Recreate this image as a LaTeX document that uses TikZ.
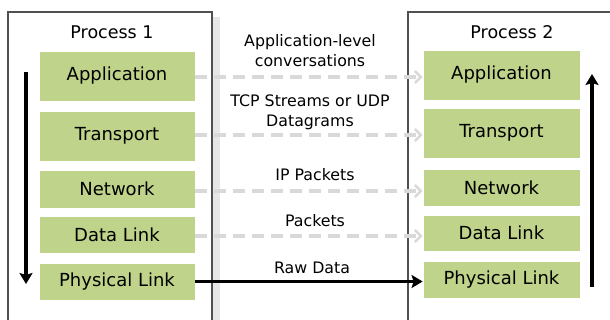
\documentclass[tikz,border=0pt]{standalone}
\usepackage{fontspec}
\setmainfont{DejaVu Sans}
\usetikzlibrary{arrows.meta}
\definecolor{layergreen}{HTML}{BFD38A}
\definecolor{framegray}{HTML}{505050}
\definecolor{shadowgray}{HTML}{E6E6E6}
\definecolor{pathgray}{HTML}{D9D9D9}
\tikzset{
  layer/.style={fill=layergreen, draw=white, line width=0.8pt, inner sep=0pt,
    font=\fontsize{18}{21}\selectfont},
  frame/.style={draw=framegray, line width=1.4pt},
  title/.style={font=\fontsize{17.5}{20}\selectfont},
  caption/.style={font=\fontsize{15.8}{20}\selectfont, align=center, inner sep=0pt},
  peer/.style={draw=pathgray, line width=3.6pt, dash pattern=on 12pt off 7pt,
    -{Straight Barb[length=6pt,width=12pt,line width=2.4pt]}},
  wire/.style={draw=black, line width=3.4pt, -{Stealth[length=11pt,width=13pt,inset=2pt]}},
}
\begin{document}
\begin{tikzpicture}[x=1pt, y=-1pt]
\useasboundingbox (0,0) rectangle (610,320);
\fill[white] (0,0) rectangle (610,320);

% process frames with a soft shadow on the left one
\fill[shadowgray] (212,17) rectangle (220,330);
\draw[frame] (8,330) -- (8,12) -- (212,12) -- (212,330);
\draw[frame] (408,330) -- (408,12) -- (620,12);

\node[title] (p1) at (112,32) {Process 1};
\node[title] (p2) at (512,32) {Process 2};

% layer stack of process 1
\node[layer, minimum width=156pt, minimum height=50pt] (la) at (117,76) {Application};
\node[layer, minimum width=156pt, minimum height=50pt] (lt) at (117,136) {Transport};
\node[layer, minimum width=156pt, minimum height=38pt] (ln) at (117,189) {Network};
\node[layer, minimum width=156pt, minimum height=37pt] (ld) at (117,234.5) {Data Link};
\node[layer, minimum width=156pt, minimum height=37pt] (lp) at (117,281.5) {Physical Link};

% layer stack of process 2
\node[layer, minimum width=157pt, minimum height=50pt] (ra) at (501.5,75) {Application};
\node[layer, minimum width=157pt, minimum height=50pt] (rt) at (501.5,133) {Transport};
\node[layer, minimum width=157pt, minimum height=37pt] (rn) at (501.5,187.5) {Network};
\node[layer, minimum width=157pt, minimum height=36pt] (rd) at (501.5,233) {Data Link};
\node[layer, minimum width=157pt, minimum height=37pt] (rp) at (501.5,279.5) {Physical Link};

% peer-to-peer (virtual) paths
\draw[peer] ([yshift=-1pt]la.east) -- ([yshift=-1pt]la.east -| ra.west);
\draw[peer] ([yshift=1pt]lt.east) -- ([yshift=1pt]lt.east -| rt.west);
\draw[peer] ([yshift=-2pt]ln.east) -- ([yshift=-2pt]ln.east -| rn.west);
\draw[peer] ([yshift=-1.5pt]ld.east) -- ([yshift=-1.5pt]ld.east -| rd.west);
\draw[wire] (lp.east) -- (lp.east -| rp.west);

\node[caption] (c1) at (310,51) {Application-level\\conversations};
\node[caption] (c2) at (310,112) {TCP Streams or UDP\\Datagrams};
\node[caption] (c3) at (315,175) {IP Packets};
\node[caption] (c4) at (315,221) {Packets};
\node[caption] (c5) at (312,268) {Raw Data};

% data flow down the sender stack and up the receiver stack
\coordinate (downtop) at (26,72);
\coordinate (downend) at (26,284);
\coordinate (upbot) at (592,287);
\coordinate (uptop) at (592,74);
\draw[wire] (downtop) -- (downend);
\draw[wire] (upbot) -- (uptop);
\end{tikzpicture}
\end{document}
